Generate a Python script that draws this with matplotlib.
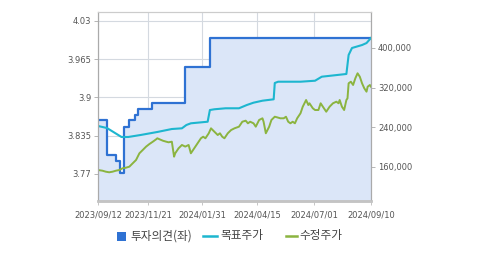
import matplotlib.pyplot as plt
from matplotlib.patches import Rectangle
from matplotlib.lines import Line2D
from matplotlib.ticker import FuncFormatter

plt.rcParams['font.family'] = ['DejaVu Sans']

# trading-day axis (0 = 2023/09/12, 244 = 2024/09/10)
tick_pos = [0, 45, 93, 142, 193, 244]
tick_labels = ['2023/09/12', '2023/11/21', '2024/01/31', '2024/04/15', '2024/07/01', '2024/09/10']

# 투자의견 (left axis), step changes
opinion_idx = [0, 8, 16, 20, 23, 28, 33, 36, 48, 78, 100, 244]
opinion_val = [3.862, 3.802, 3.792, 3.772, 3.850, 3.862, 3.870, 3.880, 3.891, 3.952, 4.001, 4.001]

# 목표주가 (right axis)
target_idx = [0, 8, 21, 27, 38, 53, 66, 75, 79, 83, 98, 100, 104, 114, 126, 133, 139, 147, 157,
              158, 161, 181, 194, 200, 222, 224, 227, 236, 240, 244]
target_val = [242700, 238600, 220500, 220500, 224500, 230600, 236600, 238000, 244700, 248100,
              251300, 274900, 276400, 278400, 278400, 285000, 289700, 293700, 296500,
              329400, 332000, 332000, 334000, 342100, 347600, 385900, 400000, 406000, 410000, 420200]

# 수정주가 (right axis)
price_idx = [0, 4, 7, 10, 13, 16, 19, 22, 25, 28, 31, 34, 37, 40, 43, 46, 49, 52, 53, 55,
             58, 61, 63, 66, 68, 69, 72, 75, 78, 81, 83, 86, 89, 92, 94, 96, 99, 101, 104, 107,
             109, 111, 113, 116, 119, 122, 126, 129, 132, 134, 136, 139, 141, 144, 147, 148, 150,
             153, 155, 158, 160, 163, 166, 168, 170, 172, 174, 176, 178, 181, 183, 186, 188, 189,
             192, 194, 197, 199, 201, 204, 207, 210, 213, 215, 216, 218, 220, 222, 223, 224, 226,
             228, 230, 232, 234, 236, 238, 240, 241, 243, 244]
price_val = [153900, 152500, 150500, 149300, 150500, 152500, 153900, 157400, 158600, 160600,
             167400, 174100, 187600, 194300, 201100, 206400, 211000, 215900, 217900, 215900,
             213000, 211000, 209800, 211000, 180800, 187600, 197700, 204400, 201100, 204400,
             187600, 197700, 207800, 217900, 221100, 217900, 228000, 238000, 231200, 224500,
             228000, 221100, 217900, 228000, 234600, 238000, 241300, 251300, 253400, 248100,
             251300, 248100, 241300, 254800, 258200, 251300, 228000, 241300, 254800, 261400,
             260200, 258200, 258200, 261400, 251300, 248100, 251300, 248100, 258200, 268300,
             281600, 295100, 285000, 288500, 278400, 274900, 274900, 288500, 281600, 271500,
             281600, 288500, 291700, 288500, 295100, 281600, 274900, 295100, 298500, 328800,
             332000, 325400, 338900, 349000, 342100, 328800, 318700, 311900, 321900, 325400, 321900]

fig = plt.figure(figsize=(4.79, 2.54), dpi=100)
ax = fig.add_axes([98 / 479, 1 - 201 / 254, 273 / 479, 189 / 254])
ax2 = ax.twinx()

ymin_l, ymax_l = 3.724, 4.0453
ax.set_ylim(ymin_l, ymax_l)
ax.set_xlim(0, 244)
ax2.set_ylim(91400, 472600)

ax.fill_between(opinion_idx, opinion_val, ymin_l, step='post', color='#dbe6f8', lw=0, zorder=1)
ax.step(opinion_idx, opinion_val, where='post', color='#2f72d3', lw=1.6, zorder=3)

ax2.plot(target_idx, target_val, color='#1db6cf', lw=1.5)
ax2.plot(price_idx, price_val, color='#8bb440', lw=1.4)

ax.set_yticks([3.77, 3.835, 3.9, 3.965, 4.03])
ax.set_yticklabels(['3.77', '3.835', '3.9', '3.965', '4.03'])
ax2.set_yticks([160000, 240000, 320000, 400000])
ax2.yaxis.set_major_formatter(FuncFormatter(lambda v, p: f'{int(v):,}'))
ax.set_xticks(tick_pos)
ax.set_xticklabels(tick_labels)

for a in (ax, ax2):
    a.tick_params(labelsize=6, colors='#555555', length=3, width=0.6, pad=2)
ax.tick_params(axis='x', colors='#bbbbbb', labelcolor='#555555', pad=4)
ax.tick_params(axis='y', colors='#aaaaaa', labelcolor='#555555')
ax2.tick_params(axis='y', colors='#aaaaaa', labelcolor='#555555')

ax.grid(True, color='#d4d9e0', lw=0.8, zorder=0)
ax.set_axisbelow(True)

for a in (ax, ax2):
    a.spines['top'].set_color('#cccccc')
    a.spines['left'].set_color('#aaaaaa')
    a.spines['right'].set_color('#aaaaaa')
    a.spines['bottom'].set_color('#c4c4c4')
    a.spines['bottom'].set_linewidth(1.8)

# legend drawn by hand in pixel coordinates
W, H = 479, 254
ly = 1 - 236 / H
fig.add_artist(Rectangle((117 / W, 1 - 241 / H), 9 / W, 9 / H, transform=fig.transFigure,
                         color='#2f72d3', lw=0))
fig.add_artist(Line2D([203 / W, 217 / W], [ly, ly], transform=fig.transFigure,
                      color='#1db6cf', lw=1.8))
fig.add_artist(Line2D([286 / W, 297 / W], [ly, ly], transform=fig.transFigure,
                      color='#8bb440', lw=1.8))
kr = ['Noto Sans CJK KR', 'DejaVu Sans']
fig.text(130 / W, ly, '투자의견(좌)', family=kr, fontsize=8.4, color='#444444', va='center')
fig.text(220 / W, ly, '목표주가', family=kr, fontsize=8.4, color='#444444', va='center')
fig.text(299 / W, ly, '수정주가', family=kr, fontsize=8.4, color='#444444', va='center')

fig.savefig('out.png', dpi=100)
